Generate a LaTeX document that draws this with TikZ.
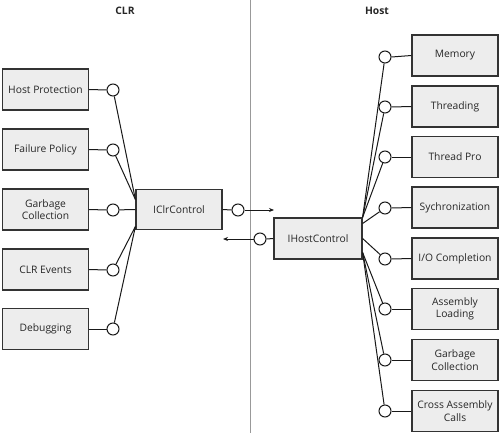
\documentclass[tikz,border=0pt]{standalone}
\usepackage{fontspec}
\setmainfont{Open Sans}
\usetikzlibrary{arrows.meta}
\begin{document}
\begin{tikzpicture}[x=1pt,y=-1pt,
  box/.style={draw=black!80,line width=1.2pt,fill=black!7,minimum width=86pt,minimum height=41pt,inner sep=1pt,align=center,font=\fontsize{10.3}{12.5}\selectfont,text=black!85},
  port/.style={circle,draw=black!90,line width=1pt,fill=white,minimum size=12pt,inner sep=0pt},
  wire/.style={draw=black!90,line width=1pt},
  title/.style={font=\bfseries\fontsize{10.3}{12}\selectfont,text=black!85}]
\useasboundingbox (0,0) rectangle (500,433);
% divider
\draw[black!40,line width=1pt] (250,0) -- (250,433);
% titles
\node[title] (tclr) at (125,11) {CLR};
\node[title] (thost) at (377,11) {Host};
% left boxes
\node[box] (l1) at (45.5,89.5) {Host Protection};
\node[box] (l2) at (45.5,149.5) {Failure Policy};
\node[box] (l3) at (45.5,209.5) {Garbage\\Collection};
\node[box] (l4) at (45.5,269.5) {CLR Events};
\node[box] (l5) at (45.5,329) {Debugging};
\node[port] (lc1) at (113,90) {};
\node[port] (lc2) at (113,150) {};
\node[port] (lc3) at (113,210) {};
\node[port] (lc4) at (113,270) {};
\node[port] (lc5) at (113,329) {};
\foreach \i in {1,...,5}{\draw[wire] (l\i.east) -- (lc\i.west);}
% IClrControl
\node[box,minimum width=86pt,minimum height=40pt] (clr) at (179,209.5) {IClrControl};
\draw[wire] (lc1) -- ([yshift=10pt]clr.west);
\draw[wire] (lc2) -- ([yshift=10pt]clr.west);
\draw[wire] (lc3) -- (clr.west);
\draw[wire] (lc4) -- ([yshift=-17pt]clr.west);
\draw[wire] (lc5) -- ([yshift=-17pt]clr.west);
\node[port] (clrc) at (238,210) {};
\draw[wire] (clr.east) -- (clrc.west);
\coordinate (clrtip) at (274,210);
\draw[wire,-{Stealth[length=5pt,width=4pt]}] (clrc.east) -- (clrtip);
% IHostControl
\node[box,minimum width=88pt] (host) at (318,238.5) {IHostControl};
\node[port] (hostc) at (260,239) {};
\draw[wire] (host.west) -- (hostc.east);
\coordinate (hosttip) at (223,239);
\draw[wire,-{Stealth[length=5pt,width=4pt]}] (hostc.west) -- (hosttip);
% right boxes
\node[box] (r1) at (455,55.5) {Memory};
\node[box] (r2) at (455,106.5) {Threading};
\node[box] (r3) at (455,157) {Thread Pro};
\node[box] (r4) at (455,207.5) {Sychronization};
\node[box] (r5) at (455,258.5) {I/O Completion};
\node[box] (r6) at (455,309) {Assembly\\Loading};
\node[box] (r7) at (455,360) {Garbage\\Collection};
\node[box] (r8) at (455,411) {Cross Assembly\\Calls};
\node[port] (rc1) at (385,57) {};
\node[port] (rc2) at (385,107) {};
\node[port] (rc3) at (385,157) {};
\node[port] (rc4) at (385,208) {};
\node[port] (rc5) at (385,259) {};
\node[port] (rc6) at (385,309) {};
\node[port] (rc7) at (385,360) {};
\node[port] (rc8) at (385,411) {};
\foreach \i in {1,...,8}{\draw[wire] (rc\i.east) -- (r\i.west);}
\draw[wire] (host.north east) -- (rc1);
\draw[wire] (host.north east) -- (rc2);
\draw[wire] (host.north east) -- (rc3);
\draw[wire] ([yshift=15pt]host.east) -- (rc4);
\draw[wire] (host.east) -- (rc5);
\draw[wire] ([yshift=-14pt]host.east) -- (rc6);
\draw[wire] ([yshift=-14pt]host.east) -- (rc7);
\draw[wire] ([yshift=-14pt]host.east) -- (rc8);
\end{tikzpicture}
\end{document}
